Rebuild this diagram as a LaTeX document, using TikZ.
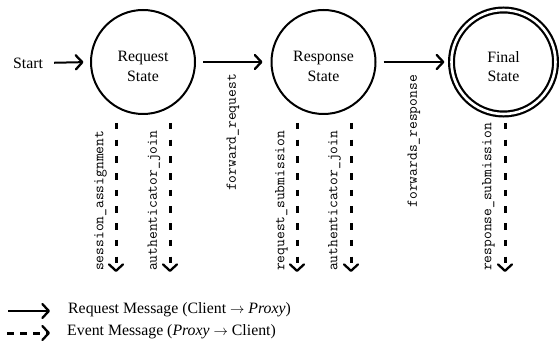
\documentclass[tikz,border=0pt]{standalone}
\usepackage{fontspec}
\setmainfont{Liberation Serif}
\usetikzlibrary{arrows.meta}
\begin{document}
\begin{tikzpicture}[x=1pt,y=-1pt,
  barbtip/.style={-{Straight Barb[length=6.5pt,width=14pt,line width=2.3pt,round]}},
  state/.style={circle, draw, line width=2pt, minimum size=104pt, inner sep=0pt},
  finalstate/.style={circle, draw, double, line width=2.2pt, double distance=2.6pt, minimum size=104pt, inner sep=0pt},
  statetext/.style={align=center, inner sep=0pt, yshift=-4.5pt, font=\fontsize{15.8}{19.5}\selectfont},
  plaintext/.style={inner sep=0pt, font=\fontsize{15.8}{19.5}\selectfont},
  msg/.style={line width=2pt, barbtip},
  evt/.style={line width=3pt, dash pattern=on 6.5pt off 10.2pt, barbtip},
  legevt/.style={line width=3pt, dash pattern=on 7pt off 6pt, barbtip},
  codelbl/.style={rotate=90, inner sep=0pt, font=\ttfamily\fontsize{15.1}{17}\selectfont},
  ]
\useasboundingbox (0,0) rectangle (559,347);

% states
\node[state, label={[statetext]center:Request\\State}] (r1) at (143,62) {};
\node[state, label={[statetext]center:Response\\State}] (r2) at (323.5,62) {};
\node[finalstate, label={[statetext]center:Final\\State}] (r3) at (503.5,62) {};

% start
\node[plaintext] (st) at (28,63) {Start};
\draw[msg, shorten <=11pt, shorten >=6.5pt] (st.east) -- (r1.west);

% transitions
\draw[msg, shorten <=7pt, shorten >=8pt] (r1.east) -- (r2.west);
\draw[msg, shorten <=7pt, shorten >=6pt] (r2.east) -- (r3.west);
\node[codelbl, anchor=east] (fr) at (233,74) {forward\_request};
\node[codelbl, anchor=east] (fs) at (414,75) {forwards\_response};

% event arrows
\coordinate (a1s) at (116,123); \coordinate (a1e) at (116,272);
\coordinate (a2s) at (170,123); \coordinate (a2e) at (170,272);
\coordinate (b1s) at (297,123); \coordinate (b1e) at (297,272);
\coordinate (b2s) at (351,123); \coordinate (b2e) at (351,272);
\coordinate (c1s) at (505,123); \coordinate (c1e) at (505,272);
\draw[evt] (a1s) -- (a1e);
\draw[evt] (a2s) -- (a2e);
\draw[evt] (b1s) -- (b1e);
\draw[evt] (b2s) -- (b2e);
\draw[evt] (c1s) -- (c1e);
\node[codelbl, anchor=west] (la1) at (100.5,271) {session\_assignment};
\node[codelbl, anchor=west] (la2) at (154,271) {authenticator\_join};
\node[codelbl, anchor=west] (lb1) at (281.5,271) {request\_submission};
\node[codelbl, anchor=west] (lb2) at (334.5,271) {authenticator\_join};
\node[codelbl, anchor=west] (lc1) at (488.5,271) {response\_submission};

% legend
\coordinate (l1s) at (8,311); \coordinate (l1e) at (50,311);
\coordinate (l2s) at (7,333); \coordinate (l2e) at (50,333);
\draw[msg] (l1s) -- (l1e);
\draw[legevt] (l2s) -- (l2e);
\node[plaintext, anchor=west] (lt1) at (68,310) {Request Message (Client $\rightarrow$ \textit{Proxy})};
\node[plaintext, anchor=west] (lt2) at (67,332) {Event Message (\textit{Proxy} $\rightarrow$ Client)};
\end{tikzpicture}
\end{document}
